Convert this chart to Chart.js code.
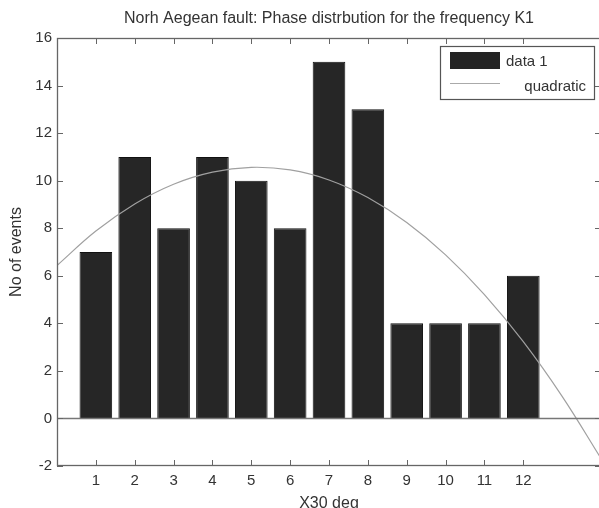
<!DOCTYPE html>
<html>
<head>
<meta charset="utf-8">
<script src="https://cdn.jsdelivr.net/npm/chart.js@4/dist/chart.umd.min.js"></script>
<style>
  html, body { margin: 0; padding: 0; background: #fff; overflow: hidden; }
  #wrap { width: 599px; height: 508px; overflow: hidden; }
</style>
</head>
<body>
<div id="wrap"><canvas id="c" width="603" height="508"></canvas></div>
<script>
// ---- data ----
const titleText = 'Norh Aegean fault: Phase distrbution for the frequency K1';
const categories = [1, 2, 3, 4, 5, 6, 7, 8, 9, 10, 11, 12];
const eventCounts = [7, 11, 8, 11, 10, 8, 15, 13, 4, 4, 4, 6];
const curveX = [0, 1, 2, 3, 4, 5, 6, 7, 8, 9, 10, 11, 12, 13, 14];
const curveY = [6.43, 7.88, 9.02, 9.85, 10.36, 10.56, 10.45, 10.03, 9.29, 8.24, 6.88, 5.21, 3.23, 0.93, -1.68];
const yTicks = [-2, 0, 2, 4, 6, 8, 10, 12, 14, 16];
const xTicks = [1, 2, 3, 4, 5, 6, 7, 8, 9, 10, 11, 12];
const barName = 'data 1';
const curveName = 'quadratic';

const FONT = 'Liberation Sans, Arial, sans-serif';
const TXT = '#333';

const framePlugin = {
  id: 'frame',
  afterDatasetsDraw(chart) {
    const ctx = chart.ctx, a = chart.chartArea;
    const xs = chart.scales.x, ys = chart.scales.y;
    ctx.save();
    // title centred over the axes
    ctx.fillStyle = TXT;
    ctx.font = '16px ' + FONT;
    ctx.textAlign = 'center';
    ctx.textBaseline = 'middle';
    ctx.fillText(titleText, (a.left + a.right) / 2, 19);
    // zero baseline
    ctx.strokeStyle = '#777';
    ctx.lineWidth = 1.5;
    const y0 = Math.round(ys.getPixelForValue(0)) + 0.5;
    ctx.beginPath(); ctx.moveTo(a.left, y0); ctx.lineTo(a.right, y0); ctx.stroke();
    // box
    ctx.strokeStyle = '#666';
    ctx.lineWidth = 1.3;
    ctx.strokeRect(a.left + 0.5, a.top + 0.5, a.right - a.left - 1, a.bottom - a.top - 1);
    // inward ticks
    ctx.lineWidth = 1;
    ctx.beginPath();
    xTicks.forEach(v => {
      const px = Math.round(xs.getPixelForValue(v)) + 0.5;
      ctx.moveTo(px, a.bottom); ctx.lineTo(px, a.bottom - 6);
      ctx.moveTo(px, a.top); ctx.lineTo(px, a.top + 6);
    });
    yTicks.forEach(v => {
      const py = Math.round(ys.getPixelForValue(v)) + 0.5;
      ctx.moveTo(a.left, py); ctx.lineTo(a.left + 6, py);
      ctx.moveTo(a.right, py); ctx.lineTo(a.right - 6, py);
    });
    ctx.stroke();

    // legend
    const lx = 440, ly = 46, lw = 154, lh = 53;
    ctx.fillStyle = '#fff';
    ctx.fillRect(lx, ly, lw, lh);
    ctx.strokeStyle = '#555';
    ctx.lineWidth = 1.2;
    ctx.strokeRect(lx + 0.5, ly + 0.5, lw, lh);
    ctx.fillStyle = '#242424';
    ctx.fillRect(450, 52, 50, 17);
    ctx.strokeStyle = '#aaa';
    ctx.lineWidth = 1;
    ctx.beginPath(); ctx.moveTo(450, 83.5); ctx.lineTo(500, 83.5); ctx.stroke();
    ctx.fillStyle = TXT;
    ctx.font = '15px ' + FONT;
    ctx.textBaseline = 'middle';
    ctx.textAlign = 'left';
    ctx.fillText(barName, 506, 62);
    ctx.textAlign = 'right';
    ctx.fillText(curveName, 586, 87);
    ctx.restore();
  }
};

new Chart(document.getElementById('c'), {
  data: {
    datasets: [
      {
        type: 'line',
        label: curveName,
        data: curveX.map((x, i) => ({ x: x, y: curveY[i] })),
        borderColor: '#a0a0a0',
        borderWidth: 1.2,
        pointRadius: 0,
        tension: 0.4,
        fill: false,
        order: 0
      },
      {
        type: 'bar',
        label: barName,
        data: categories.map((c, i) => ({ x: c, y: eventCounts[i] })),
        backgroundColor: '#262626',
        borderColor: '#111',
        borderWidth: 1,
        barPercentage: 0.84,
        categoryPercentage: 1,
        order: 1
      }
    ]
  },
  options: {
    responsive: false,
    animation: false,
    layout: { padding: { left: 0, right: 2, top: 38, bottom: 0 } },
    plugins: {
      legend: { display: false },
      tooltip: { enabled: false },
      title: { display: false }
    },
    scales: {
      x: {
        type: 'linear',
        min: 0, max: 14,
        offset: false,
        afterBuildTicks(s) { s.ticks = xTicks.map(v => ({ value: v })); },
        afterFit(s) { s.height = 42; },
        grid: { display: false, drawTicks: false, offset: false },
        border: { display: false },
        ticks: { color: TXT, font: { family: FONT, size: 15 }, padding: 6, maxRotation: 0, autoSkip: false },
        title: { display: true, text: 'X30 deg', color: TXT, font: { family: FONT, size: 16, lineHeight: 0.6 }, padding: { top: 0, bottom: 0 } }
      },
      y: {
        type: 'linear',
        min: -2, max: 16,
        afterBuildTicks(s) { s.ticks = yTicks.map(v => ({ value: v })); },
        afterFit(s) { s.width = 57; },
        grid: { display: false, drawTicks: false },
        border: { display: false },
        ticks: { color: TXT, font: { family: FONT, size: 15 }, padding: 5 },
        title: { display: true, text: 'No of events', color: TXT, font: { family: FONT, size: 16 }, padding: { top: 7, bottom: 0 } }
      }
    }
  },
  plugins: [framePlugin]
});
</script>
</body>
</html>
